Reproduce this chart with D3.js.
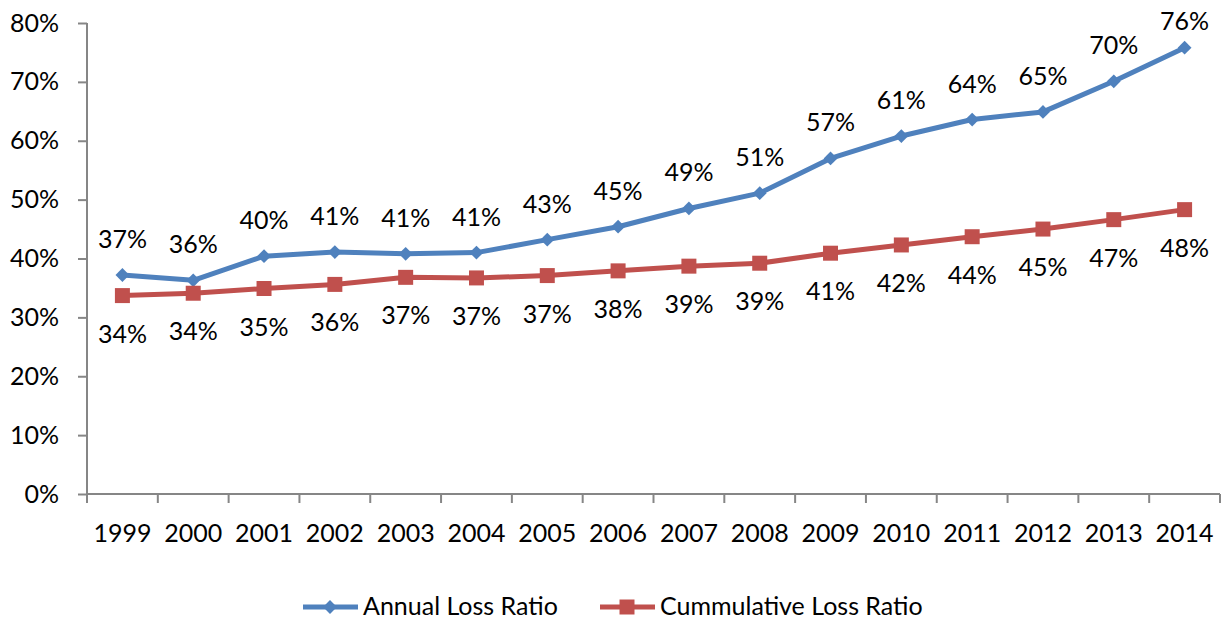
<!DOCTYPE html>
<html>
<head>
<meta charset="utf-8">
<script src="https://cdn.jsdelivr.net/npm/d3@7"></script>
<style>
  body { margin: 0; background: #fff; }
  svg text { font-family: Lato, "Open Sans", sans-serif; fill: #000; }
</style>
</head>
<body>
<svg id="chart" width="1224" height="621"></svg>
<script>
var years = ["1999","2000","2001","2002","2003","2004","2005","2006","2007","2008","2009","2010","2011","2012","2013","2014"];
var annual = [37.2, 36.3, 40.4, 41.1, 40.8, 41.0, 43.2, 45.4, 48.5, 51.1, 57.0, 60.8, 63.6, 64.9, 70.1, 75.8];
var cumulative = [33.7, 34.1, 34.9, 35.6, 36.8, 36.7, 37.1, 37.9, 38.7, 39.2, 40.9, 42.3, 43.7, 45.0, 46.6, 48.3];
var yTicks = [0, 10, 20, 30, 40, 50, 60, 70, 80];
var seriesNames = ["Annual Loss Ratio", "Cummulative Loss Ratio"];

var svg = d3.select("#chart"),
    margin = {top: 23, right: 4, bottom: 127, left: 87},
    width = 1224 - margin.left - margin.right,
    height = 621 - margin.top - margin.bottom;

var axisColor = "#868686";
var blue = "#4F81BD", red = "#C0504D";
var fontSize = 25;

var x = d3.scaleBand().domain(years).range([0, width]);
var y = d3.scaleLinear().domain([0, 80]).range([height, 0]);

var g = svg.append("g")
    .attr("transform", "translate(" + margin.left + "," + margin.top + ")");

// y axis
var yAxis = g.append("g")
    .call(d3.axisLeft(y).tickValues(yTicks).tickSize(9).tickPadding(19)
        .tickFormat(function (d) { return d + "%"; }));
yAxis.selectAll("path, line").attr("stroke", axisColor).attr("stroke-width", 2);
yAxis.select(".domain").attr("d", "M0," + height + "V0");
yAxis.selectAll("text").attr("font-size", fontSize).style("font-family", "Lato, sans-serif");

// x axis, ticks on category boundaries
var xAxis = g.append("g").attr("transform", "translate(0," + height + ")");
xAxis.append("line").attr("x1", 0).attr("x2", width)
    .attr("stroke", axisColor).attr("stroke-width", 2);
xAxis.selectAll(".tk").data(d3.range(years.length + 1)).enter().append("line")
    .attr("x1", function (i) { return i * x.step(); })
    .attr("x2", function (i) { return i * x.step(); })
    .attr("y1", 0).attr("y2", 9)
    .attr("stroke", axisColor).attr("stroke-width", 2);
xAxis.selectAll(".lbl").data(years).enter().append("text")
    .attr("x", function (d) { return x(d) + x.bandwidth() / 2; })
    .attr("y", 48)
    .attr("text-anchor", "middle")
    .attr("font-size", fontSize)
    .text(function (d) { return d; });

function cx(d, i) { return x(years[i]) + x.bandwidth() / 2; }

var line = d3.line()
    .x(function (d, i) { return cx(d, i); })
    .y(function (d) { return y(d); });

var diamond = d3.symbol().type(d3.symbolSquare).size(95);
var square = d3.symbol().type(d3.symbolSquare).size(225);

function drawSeries(data, color, sym, rot, labelDy) {
    g.append("path").datum(data)
        .attr("fill", "none").attr("stroke", color)
        .attr("stroke-width", 5).attr("stroke-linejoin", "round")
        .attr("d", line);
    g.selectAll(null).data(data).enter().append("path")
        .attr("d", sym)
        .attr("fill", color)
        .attr("transform", function (d, i) {
            return "translate(" + cx(d, i) + "," + y(d) + ") rotate(" + rot + ")";
        });
    g.selectAll(null).data(data).enter().append("text")
        .attr("x", cx)
        // keep labels inside the top of the chart
        .attr("y", function (d) { return Math.max(y(d) + labelDy, 30 - margin.top); })
        .attr("text-anchor", "middle")
        .attr("font-size", fontSize)
        .text(function (d) { return Math.round(d) + "%"; });
}

drawSeries(annual, blue, diamond, 45, -27);
drawSeries(cumulative, red, square, 0, 47);

// legend
var legend = svg.append("g").attr("transform", "translate(0,607)");
var items = [
    {name: seriesNames[0], color: blue, sym: diamond, rot: 45, x0: 303},
    {name: seriesNames[1], color: red, sym: square, rot: 0, x0: 600}
];
items.forEach(function (it) {
    legend.append("line").attr("x1", it.x0).attr("x2", it.x0 + 55)
        .attr("stroke", it.color).attr("stroke-width", 5);
    legend.append("path").attr("d", it.sym).attr("fill", it.color)
        .attr("transform", "translate(" + (it.x0 + 27) + ",0) rotate(" + it.rot + ")");
    legend.append("text").attr("x", it.x0 + 60).attr("y", 8)
        .attr("font-size", fontSize).text(it.name);
});
</script>
</body>
</html>
